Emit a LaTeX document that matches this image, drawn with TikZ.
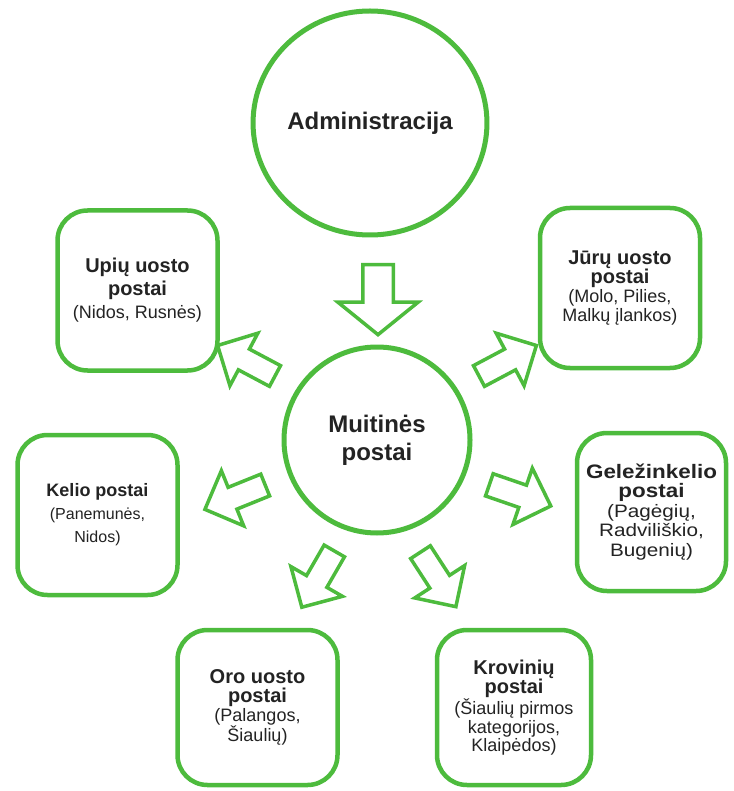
\documentclass[tikz,border=0pt]{standalone}
\usepackage{fontspec}
\setmainfont{Liberation Sans}
\usetikzlibrary{shapes.arrows,shapes.geometric}
\definecolor{lgreen}{RGB}{77,187,61}
\definecolor{txt}{RGB}{35,35,35}
\newcommand{\hd}[1]{{\fontsize{20}{22}\selectfont\bfseries #1}}
\tikzstyle{bc} = [ellipse, draw=lgreen, line width=5pt, fill=white, text=txt,
    align=center, font=\fontsize{24}{28}\selectfont\bfseries, inner sep=0pt]
\tikzstyle{pb} = [rectangle, draw=lgreen, line width=4.5pt, fill=white, text=txt,
    rounded corners=30pt, align=center, font=\fontsize{18}{19}\selectfont,
    minimum width=160pt, minimum height=160pt, inner sep=0pt]
\tikzstyle{ba} = [single arrow, draw=lgreen, line width=3.5pt, fill=white,
    inner xsep=0pt, inner ysep=10pt, minimum height=65pt,
    single arrow head extend=18pt]

\begin{document}
\begin{tikzpicture}[x=1pt,y=-1pt]
  \useasboundingbox (0,0) rectangle (733,791);
  \node[bc, minimum width=210pt, minimum height=224pt] (1) at (370,123) {Administracija};
  \node[bc, minimum width=186pt, minimum height=186pt] (2) at (377,440) {Muitinės\\postai};

  \node[pb, font=\fontsize{18}{23}\selectfont] (3) at (137.5,290.5) {\hd{Upių uosto}\\\hd{postai}\\(Nidos, Rusnės)};
  \node[pb] (4) at (620,288) {\hd{Jūrų uosto}\\\hd{postai}\\(Molo, Pilies,\\Malkų įlankos)};
  \node[pb, font=\fontsize{16}{23}\selectfont] (5) at (97.5,515)
    {{\fontsize{18}{20}\selectfont\bfseries Kelio postai}\\(Panemunės,\\Nidos)};
  \node[pb, minimum width=149pt, minimum height=158pt,
    font=\addfontfeature{FakeStretch=1.15}\fontsize{18}{19.5}\selectfont] (6) at (651.5,512)
    {{\fontsize{19.5}{20}\selectfont\bfseries Geležinkelio}\\{\fontsize{19.5}{20}\selectfont\bfseries postai}\\(Pagėgių,\\Radviliškio,\\Bugenių)};
  \node[pb, minimum height=155pt] (7) at (257.5,707.5) {\hd{Oro uosto}\\\hd{postai}\\(Palangos,\\Šiaulių)};
  \node[pb, minimum width=154pt, minimum height=155pt, font=\fontsize{18}{18.5}\selectfont] (8) at (514,707.5)
    {\hd{Krovinių}\\\hd{postai}\\(Šiaulių pirmos\\kategorijos,\\Klaipėdos)};

  \node[ba, rotate=-90, minimum height=70pt, inner ysep=13.5pt,
    single arrow head extend=25pt, single arrow tip angle=102] (a1) at (378,293.5) {};
  \node[ba, rotate=152] (a2) at (251.5,363.5) {};
  \node[ba, rotate=28] (a3) at (502.5,363.5) {};
  \node[ba, rotate=202] (a4) at (240.5,495) {};
  \node[ba, rotate=-19] (a5) at (514.5,493.5) {};
  \node[ba, rotate=-120] (a6) at (321,574) {};
  \node[ba, rotate=-57] (a7) at (435,574.5) {};
\end{tikzpicture}
\end{document}
